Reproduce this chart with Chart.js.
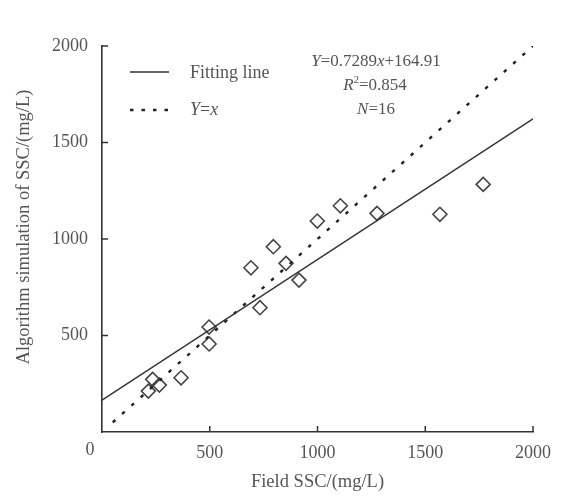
<!DOCTYPE html>
<html lang="en">
<head>
  <meta charset="UTF-8">
  <title>Field SSC vs algorithm simulation</title>
  <style>
    body {
      margin: 0;
      padding: 0;
      background-color: #fff;
    }
    .wrap {
      width: 561px;
      height: 497px;
    }
  </style>
  <script src="https://cdn.jsdelivr.net/npm/chart.js"></script>
</head>
<body>
  <div class="wrap">
    <canvas id="sscChart" width="561" height="497"></canvas>
  </div>

  <script>
    const fieldSSC = [215, 235, 266, 367, 497, 497, 691, 733, 795, 854, 914, 999, 1106, 1276, 1568, 1769];
    const simSSC = [212, 273, 243, 281, 544, 456, 851, 644, 960, 874, 787, 1093, 1172, 1133, 1128, 1283];

    // line end points
    const fitX = [0, 2000];
    const fitY = [164.91, 1622.71];
    const oneX = [50, 2000];
    const oneY = [50, 2000];

    const axisTicks = [0, 500, 1000, 1500, 2000];

    const serif = '"Liberation Serif", "Times New Roman", serif';
    const textColor = '#555';

    function toPoints(xs, ys) {
      return xs.map((x, i) => ({ x: x, y: ys[i] }));
    }

    // draw text made of pieces (some italic, some superscript)
    function drawRich(ctx, parts, x, y, size, align) {
      let total = 0;
      parts.forEach(p => {
        ctx.font = (p.it ? 'italic ' : '') + (p.sup ? size * 0.65 : size) + 'px ' + serif;
        p.w = ctx.measureText(p.t).width;
        total += p.w;
      });
      let cx = align === 'center' ? x - total / 2 : x;
      parts.forEach(p => {
        ctx.font = (p.it ? 'italic ' : '') + (p.sup ? size * 0.65 : size) + 'px ' + serif;
        ctx.textAlign = 'left';
        ctx.textBaseline = 'middle';
        ctx.fillText(p.t, cx, p.sup ? y - size * 0.35 : y);
        cx += p.w;
      });
    }

    const extras = {
      id: 'extras',
      afterDraw(chart) {
        const ctx = chart.ctx;
        const xs = chart.scales.x;
        const ys = chart.scales.y;
        ctx.save();

        // inward tick marks
        ctx.strokeStyle = '#333';
        ctx.lineWidth = 1.5;
        axisTicks.forEach(v => {
          if (v === 0) return;
          const px = xs.getPixelForValue(v);
          ctx.beginPath();
          ctx.moveTo(px, xs.top);
          ctx.lineTo(px, xs.top - 6);
          ctx.stroke();
          const py = ys.getPixelForValue(v);
          ctx.beginPath();
          ctx.moveTo(ys.right, py);
          ctx.lineTo(ys.right + 6, py);
          ctx.stroke();
        });

        // shared origin label
        ctx.fillStyle = textColor;
        ctx.font = '18px ' + serif;
        ctx.textAlign = 'center';
        ctx.textBaseline = 'middle';
        ctx.fillText('0', xs.getPixelForValue(0) - 12, xs.top + 18);

        // y title, sits a little above the axis middle in the original
        ctx.save();
        ctx.translate(24, 227);
        ctx.rotate(-Math.PI / 2);
        ctx.font = '18.5px ' + serif;
        ctx.fillText('Algorithm simulation of SSC/(mg/L)', 0, 0);
        ctx.restore();

        // legend
        ctx.strokeStyle = '#333';
        ctx.lineWidth = 1.4;
        ctx.beginPath();
        ctx.moveTo(130, 72);
        ctx.lineTo(169, 72);
        ctx.stroke();
        ctx.strokeStyle = '#222';
        ctx.lineWidth = 2.4;
        ctx.setLineDash([3.5, 8]);
        ctx.beginPath();
        ctx.moveTo(130, 110);
        ctx.lineTo(171, 110);
        ctx.stroke();
        ctx.setLineDash([]);

        ctx.fillStyle = textColor;
        drawRich(ctx, [{ t: 'Fitting line' }], 190, 73, 18, 'left');
        drawRich(ctx, [{ t: 'Y', it: true }, { t: '=' }, { t: 'x', it: true }], 190, 110, 18, 'left');

        // regression stats
        drawRich(ctx, [{ t: 'Y', it: true }, { t: '=0.7289' }, { t: 'x', it: true }, { t: '+164.91' }], 376, 62, 17, 'center');
        drawRich(ctx, [{ t: 'R', it: true }, { t: '2', sup: true }, { t: '=0.854' }], 375, 86, 17, 'center');
        drawRich(ctx, [{ t: 'N', it: true }, { t: '=16' }], 376, 110, 17, 'center');

        ctx.restore();
      }
    };

    const ctx = document.getElementById('sscChart').getContext('2d');
    const sscChart = new Chart(ctx, {
      type: 'scatter',
      data: {
        datasets: [
          {
            label: 'Fitting line',
            data: toPoints(fitX, fitY),
            showLine: true,
            borderColor: '#333',
            borderWidth: 1.4,
            pointRadius: 0
          },
          {
            label: 'Y=x',
            data: toPoints(oneX, oneY),
            showLine: true,
            borderColor: '#222',
            borderWidth: 2.4,
            borderDash: [3.5, 9],
            pointRadius: 0
          },
          {
            label: 'Samples',
            data: toPoints(fieldSSC, simSSC),
            pointStyle: 'rectRot',
            pointRadius: 7,
            borderColor: '#444',
            borderWidth: 1.6,
            backgroundColor: 'rgba(255,255,255,0)'
          }
        ]
      },
      options: {
        responsive: false,
        animation: false,
        layout: {
          padding: { top: 46, right: 28, left: 0, bottom: 0 }
        },
        plugins: {
          legend: { display: false },
          tooltip: { enabled: false }
        },
        scales: {
          x: {
            type: 'linear',
            min: 0,
            max: 2000,
            afterBuildTicks: s => { s.ticks = axisTicks.map(v => ({ value: v })); },
            afterFit: s => { s.height = 65; },
            grid: { display: false, drawTicks: false },
            border: { display: true, color: '#333', width: 1.6 },
            ticks: {
              padding: 10,
              color: textColor,
              font: { family: serif, size: 18 },
              callback: v => (v === 0 ? '' : v)
            },
            title: {
              display: true,
              text: 'Field SSC/(mg/L)',
              color: textColor,
              font: { family: serif, size: 18.5 },
              padding: { top: 4 }
            }
          },
          y: {
            type: 'linear',
            min: 0,
            max: 2000,
            afterBuildTicks: s => { s.ticks = axisTicks.map(v => ({ value: v })); },
            afterFit: s => { s.width = 102; },
            grid: { display: false, drawTicks: false },
            border: { display: true, color: '#333', width: 1.6 },
            ticks: {
              padding: 14,
              color: textColor,
              font: { family: serif, size: 18 },
              callback: v => (v === 0 ? '' : v)
            },
            title: { display: false }
          }
        }
      },
      plugins: [extras]
    });
  </script>
</body>
</html>
